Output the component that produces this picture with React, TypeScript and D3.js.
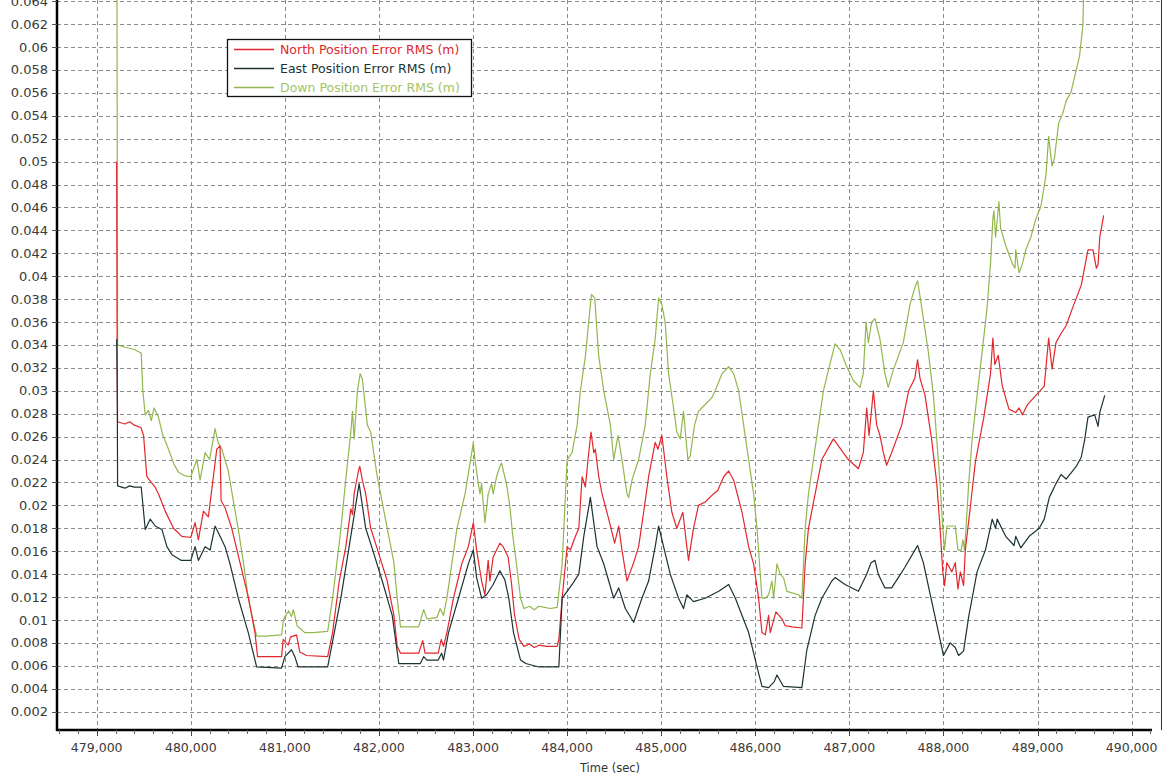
import React from "react";
import * as d3 from "d3";

type P = [number, number];

const seriesNames = [
  "North Position Error RMS (m)",
  "East Position Error RMS (m)",
  "Down Position Error RMS (m)",
];
const seriesColors = ["#e3262b", "#1c3232", "#93b74e"];
const legendTextColors = ["#e3262b", "#1c3232", "#a6c463"];

const xTicks = [479000, 480000, 481000, 482000, 483000, 484000, 485000, 486000, 487000, 488000, 489000, 490000];
const yTicks = [0.002, 0.004, 0.006, 0.008, 0.01, 0.012, 0.014, 0.016, 0.018, 0.02, 0.022, 0.024, 0.026, 0.028, 0.03, 0.032, 0.034, 0.036, 0.038, 0.04, 0.042, 0.044, 0.046, 0.048, 0.05, 0.052, 0.054, 0.056, 0.058, 0.06, 0.062, 0.064];

const north: P[] = [
  [479212, 0.05], [479218, 0.031], [479222, 0.0273], [479300, 0.0271], [479350, 0.0273], [479400, 0.027], [479470, 0.0268],
  [479498, 0.0261], [479533, 0.0225], [479580, 0.022], [479620, 0.0216], [479657, 0.021], [479728, 0.0195], [479816, 0.018],
  [479905, 0.0173], [480000, 0.0172], [480046, 0.0185], [480081, 0.017], [480134, 0.0195], [480187, 0.019], [480240, 0.0225],
  [480276, 0.0249], [480311, 0.0252], [480322, 0.0204], [480364, 0.0198], [480435, 0.018], [480523, 0.015], [480611, 0.012],
  [480682, 0.0089], [480710, 0.0068], [480850, 0.0068], [480965, 0.0068], [480982, 0.0083], [481035, 0.0078], [481060, 0.0085],
  [481124, 0.0087], [481159, 0.0072], [481230, 0.0069], [481455, 0.0068], [481507, 0.0089], [481578, 0.0134], [481648, 0.0164],
  [481701, 0.0197], [481719, 0.0192], [481736, 0.021], [481782, 0.023], [481796, 0.0234], [481824, 0.0222], [481859, 0.021],
  [481912, 0.018], [481982, 0.0162], [482088, 0.0134], [482159, 0.0104], [482194, 0.0077], [482229, 0.0071], [482422, 0.0071],
  [482465, 0.0082], [482490, 0.0071], [482630, 0.0071], [482662, 0.0083], [482686, 0.0077], [482722, 0.0089], [482792, 0.0119],
  [482880, 0.0149], [482950, 0.0164], [483003, 0.0185], [483038, 0.0161], [483091, 0.0134], [483126, 0.0122], [483161, 0.0152],
  [483179, 0.0134], [483214, 0.0155], [483285, 0.0167], [483320, 0.0164], [483373, 0.0155], [483410, 0.0131], [483440, 0.0105],
  [483490, 0.0083], [483541, 0.0077], [483600, 0.0079], [483650, 0.0076], [483700, 0.0078], [483780, 0.0077], [483894, 0.0077],
  [483912, 0.0083], [483947, 0.0119], [484000, 0.0164], [484035, 0.0161], [484088, 0.0173], [484124, 0.018], [484159, 0.0225],
  [484194, 0.0216], [484222, 0.024], [484254, 0.0264], [484283, 0.0246], [484300, 0.0249], [484336, 0.0225], [484371, 0.021],
  [484442, 0.0188], [484505, 0.0167], [484548, 0.0182], [484583, 0.0161], [484636, 0.0134], [484671, 0.0142], [484707, 0.015],
  [484760, 0.0164], [484813, 0.0194], [484866, 0.0225], [484936, 0.0255], [484965, 0.0249], [485007, 0.0261], [485060, 0.0225],
  [485113, 0.0194], [485166, 0.018], [485230, 0.0194], [485272, 0.0164], [485290, 0.0152], [485343, 0.018], [485396, 0.02],
  [485467, 0.0203], [485555, 0.021], [485600, 0.0213], [485664, 0.0225], [485717, 0.023], [485770, 0.0222], [485859, 0.0194],
  [485929, 0.0164], [485982, 0.0149], [486035, 0.0119], [486071, 0.0089], [486106, 0.0087], [486141, 0.0104], [486159, 0.0089],
  [486219, 0.0107], [486283, 0.0101], [486318, 0.0095], [486389, 0.0094], [486495, 0.0093], [486530, 0.0149], [486565, 0.018],
  [486636, 0.021], [486707, 0.024], [486830, 0.0258], [486883, 0.0252], [486989, 0.024], [487096, 0.0232], [487148, 0.0246],
  [487184, 0.0285], [487209, 0.0261], [487255, 0.03], [487290, 0.027], [487325, 0.0261], [487361, 0.0246], [487396, 0.0235],
  [487449, 0.0246], [487556, 0.027], [487630, 0.03], [487696, 0.0311], [487725, 0.0327], [487750, 0.0311], [487804, 0.0296],
  [487875, 0.0257], [487929, 0.0219], [487964, 0.018], [487993, 0.0142], [488011, 0.013], [488036, 0.015], [488089, 0.0142],
  [488125, 0.015], [488154, 0.0127], [488179, 0.0142], [488214, 0.013], [488232, 0.0161], [488286, 0.0199], [488339, 0.0238],
  [488429, 0.0277], [488500, 0.0315], [488525, 0.0346], [488546, 0.0323], [488582, 0.0331], [488625, 0.0304], [488696, 0.0284],
  [488768, 0.0281], [488804, 0.0285], [488839, 0.0279], [488893, 0.0288], [488982, 0.0296], [489071, 0.0304], [489118, 0.0346],
  [489154, 0.0319], [489196, 0.0342], [489250, 0.035], [489304, 0.0357], [489375, 0.0373], [489464, 0.0392], [489536, 0.0423],
  [489589, 0.0423], [489625, 0.0407], [489643, 0.041], [489661, 0.0434], [489703, 0.0453],
];

const east: P[] = [
  [479212, 0.0345], [479218, 0.031], [479222, 0.0217], [479300, 0.0215], [479350, 0.0217], [479400, 0.0216], [479473, 0.0216],
  [479516, 0.0179], [479568, 0.0188], [479622, 0.0182], [479693, 0.0179], [479746, 0.0164], [479800, 0.0157], [479900, 0.0152],
  [480000, 0.0152], [480046, 0.0164], [480081, 0.0152], [480152, 0.0164], [480205, 0.0161], [480258, 0.0182], [480311, 0.0173],
  [480364, 0.0164], [480417, 0.0149], [480505, 0.0119], [480611, 0.0089], [480700, 0.0059], [480965, 0.0058], [481000, 0.0068],
  [481071, 0.0074], [481106, 0.0068], [481141, 0.0059], [481455, 0.0059], [481525, 0.0089], [481595, 0.0119], [481683, 0.0164],
  [481736, 0.0191], [481789, 0.0219], [481859, 0.018], [481930, 0.0162], [482035, 0.0134], [482141, 0.0104], [482211, 0.0062],
  [482440, 0.0062], [482475, 0.0068], [482510, 0.0065], [482630, 0.0065], [482666, 0.0071], [482686, 0.0065], [482739, 0.0089],
  [482845, 0.0119], [482950, 0.0149], [483003, 0.0161], [483038, 0.0137], [483091, 0.0119], [483144, 0.0122], [483214, 0.0131],
  [483285, 0.0143], [483338, 0.0135], [483380, 0.0119], [483430, 0.0089], [483505, 0.0065], [483560, 0.0062], [483700, 0.0059],
  [483912, 0.0059], [483947, 0.0119], [484000, 0.0125], [484053, 0.0131], [484124, 0.014], [484177, 0.0173], [484247, 0.0207],
  [484283, 0.0185], [484318, 0.0164], [484389, 0.0149], [484442, 0.0134], [484495, 0.0119], [484548, 0.0128], [484618, 0.011],
  [484707, 0.0098], [484795, 0.0119], [484866, 0.0134], [484936, 0.0164], [484972, 0.0182], [485025, 0.0164], [485096, 0.014],
  [485184, 0.0119], [485237, 0.011], [485272, 0.0122], [485343, 0.0116], [485467, 0.0119], [485611, 0.0125], [485717, 0.0131],
  [485788, 0.0119], [485929, 0.0089], [486018, 0.0059], [486071, 0.0042], [486141, 0.0041], [486200, 0.0046], [486230, 0.0052],
  [486300, 0.0042], [486495, 0.0041], [486548, 0.0074], [486636, 0.0104], [486707, 0.0119], [486813, 0.0134], [486848, 0.0137],
  [486954, 0.0131], [487096, 0.0125], [487184, 0.014], [487230, 0.015], [487272, 0.0152], [487307, 0.014], [487378, 0.0128],
  [487449, 0.0128], [487520, 0.0137], [487590, 0.0146], [487696, 0.0161], [487725, 0.0165], [487786, 0.015], [487857, 0.0123],
  [487929, 0.0096], [488000, 0.0069], [488071, 0.008], [488125, 0.0076], [488161, 0.0069], [488214, 0.0073], [488268, 0.0103],
  [488357, 0.0142], [488446, 0.0161], [488518, 0.0188], [488554, 0.018], [488571, 0.0188], [488661, 0.0173], [488750, 0.0165],
  [488768, 0.0173], [488821, 0.0163], [488911, 0.0173], [489018, 0.018], [489071, 0.0188], [489125, 0.0207], [489196, 0.0219],
  [489250, 0.0227], [489304, 0.0223], [489411, 0.0234], [489464, 0.0242], [489500, 0.0257], [489536, 0.0277], [489607, 0.0279],
  [489643, 0.0269], [489661, 0.0281], [489714, 0.0296],
];

const down: P[] = [
  [479212, 0.08], [479222, 0.034], [479300, 0.0338], [479400, 0.0336], [479473, 0.0333], [479490, 0.03], [479516, 0.0279],
  [479550, 0.0283], [479580, 0.0274], [479610, 0.0285], [479657, 0.0277], [479700, 0.0262], [479763, 0.0249], [479820, 0.0236],
  [479869, 0.0229], [479930, 0.0226], [480000, 0.0225], [480030, 0.0232], [480064, 0.024], [480099, 0.0222], [480152, 0.0246],
  [480200, 0.024], [480258, 0.0267], [480290, 0.0255], [480330, 0.0249], [480399, 0.023], [480450, 0.0205], [480505, 0.0179],
  [480560, 0.015], [480611, 0.0119], [480660, 0.01], [480700, 0.0086], [480800, 0.0086], [480965, 0.0087], [480985, 0.01],
  [481000, 0.0103], [481040, 0.0108], [481070, 0.0103], [481090, 0.0109], [481130, 0.0095], [481212, 0.0089], [481300, 0.0089],
  [481455, 0.009], [481507, 0.0119], [481560, 0.0155], [481595, 0.0179], [481650, 0.0225], [481701, 0.0264], [481719, 0.0282],
  [481736, 0.0258], [481771, 0.03], [481800, 0.0315], [481824, 0.031], [481877, 0.027], [481912, 0.0264], [481982, 0.0225],
  [482088, 0.018], [482159, 0.015], [482194, 0.0119], [482229, 0.0094], [482422, 0.0094], [482475, 0.0109], [482510, 0.0101],
  [482616, 0.0102], [482651, 0.011], [482686, 0.0104], [482722, 0.0119], [482827, 0.0179], [482915, 0.021], [482986, 0.0246],
  [483003, 0.0255], [483020, 0.024], [483056, 0.0219], [483074, 0.021], [483091, 0.0219], [483126, 0.0185], [483161, 0.021],
  [483197, 0.0219], [483214, 0.021], [483250, 0.0225], [483285, 0.0234], [483302, 0.0237], [483355, 0.0219], [483390, 0.02],
  [483420, 0.0175], [483452, 0.0155], [483505, 0.0119], [483541, 0.011], [483600, 0.0112], [483650, 0.0109], [483700, 0.0112],
  [483760, 0.0111], [483820, 0.011], [483894, 0.0111], [483947, 0.0149], [484000, 0.024], [484053, 0.0246], [484106, 0.027],
  [484141, 0.03], [484194, 0.033], [484229, 0.036], [484258, 0.0384], [484293, 0.0381], [484336, 0.033], [484389, 0.03],
  [484460, 0.027], [484495, 0.024], [484541, 0.0261], [484583, 0.024], [484636, 0.021], [484654, 0.0207], [484689, 0.0222],
  [484760, 0.024], [484830, 0.027], [484884, 0.0315], [484936, 0.0345], [484972, 0.0381], [485007, 0.0375], [485042, 0.036],
  [485078, 0.0315], [485131, 0.0285], [485166, 0.0264], [485202, 0.0258], [485237, 0.0282], [485283, 0.024], [485308, 0.0243],
  [485354, 0.027], [485396, 0.0282], [485467, 0.0288], [485538, 0.0294], [485573, 0.03], [485647, 0.0315], [485717, 0.0321],
  [485770, 0.0315], [485823, 0.03], [485876, 0.027], [485929, 0.024], [485982, 0.021], [486018, 0.018], [486071, 0.0119],
  [486106, 0.0119], [486141, 0.0122], [486177, 0.0134], [486194, 0.0119], [486230, 0.0149], [486265, 0.014], [486300, 0.0137],
  [486336, 0.0125], [486460, 0.0122], [486495, 0.0119], [486530, 0.018], [486565, 0.021], [486618, 0.024], [486671, 0.027],
  [486724, 0.03], [486795, 0.0324], [486848, 0.0341], [486901, 0.0336], [486972, 0.0321], [487042, 0.0309], [487113, 0.0303],
  [487148, 0.0315], [487177, 0.036], [487202, 0.0342], [487237, 0.036], [487272, 0.0363], [487325, 0.0345], [487378, 0.0315],
  [487413, 0.0303], [487466, 0.0318], [487573, 0.0342], [487643, 0.0375], [487696, 0.039], [487725, 0.0396], [487768, 0.0373],
  [487839, 0.0334], [487893, 0.0296], [487929, 0.0257], [487964, 0.0219], [487993, 0.018], [488011, 0.0161], [488036, 0.0182],
  [488125, 0.0182], [488154, 0.0161], [488189, 0.0161], [488207, 0.017], [488225, 0.0161], [488268, 0.0219], [488304, 0.0257],
  [488357, 0.0296], [488411, 0.0334], [488464, 0.0373], [488500, 0.0411], [488525, 0.045], [488536, 0.0457], [488554, 0.0434],
  [488589, 0.0465], [488607, 0.0442], [488661, 0.0427], [488732, 0.0411], [488761, 0.0407], [488768, 0.0423], [488804, 0.0403],
  [488839, 0.0411], [488875, 0.0423], [488928, 0.0434], [488982, 0.045], [489036, 0.0461], [489089, 0.0488], [489118, 0.0522],
  [489154, 0.0496], [489179, 0.0503], [489225, 0.0534], [489268, 0.0542], [489304, 0.0553], [489357, 0.0561], [489411, 0.058],
  [489446, 0.0592], [489482, 0.0619], [489500, 0.068],
];

const allSeries = [north, east, down];
const drawOrder = [2, 0, 1];

const W = 1164;
const H = 778;
const L = 57;
const R = 1161;
const B = 730;
const T = 0;
const FONT = "'DejaVu Sans', Verdana, sans-serif";

export default function App() {
  const x = d3.scaleLinear().domain([478578, 490312]).range([L, R]);
  const y = d3.scaleLinear().domain([0.0004, 0.0641]).range([B, T]);
  const line = d3
    .line<P>()
    .x((d) => x(d[0]))
    .y((d) => y(d[1]));
  const minorTicks = d3.range(478600, 490300, 200).filter((v) => v % 1000 !== 0);
  const fmtX = d3.format(",");
  const fmtY = d3.format("~g");

  return (
    <div style={{ position: "absolute", left: 0, top: 0, width: W, height: H, background: "#fff" }}>
      <svg width={W} height={H} style={{ display: "block" }} fontFamily={FONT}>
        <defs>
          <clipPath id="plotclip">
            <rect x={L} y={-20} width={R - L} height={B + 20} />
          </clipPath>
        </defs>
        <rect x={0} y={0} width={W} height={H} fill="#fff" />
        {/* grid */}
        <g stroke="#8c8c8c" strokeWidth={1} strokeDasharray="4,3">
          {yTicks.map((t) => (
            <line key={"gy" + t} x1={L} x2={R} y1={Math.round(y(t)) + 0.5} y2={Math.round(y(t)) + 0.5} />
          ))}
          {xTicks.map((t) => (
            <line key={"gx" + t} x1={Math.round(x(t)) + 0.5} x2={Math.round(x(t)) + 0.5} y1={T} y2={B} />
          ))}
        </g>
        {/* series */}
        <g clipPath="url(#plotclip)" fill="none" strokeWidth={1.2} strokeLinejoin="round">
          {drawOrder.map((i) => (
            <path key={"s" + i} d={line(allSeries[i]) || ""} stroke={seriesColors[i]} />
          ))}
        </g>
        {/* right border */}
        <line x1={R + 0.5} x2={R + 0.5} y1={T} y2={B} stroke="#333" strokeWidth={1} />
        {/* y axis */}
        <line x1={L} x2={L} y1={T} y2={B + 1} stroke="#000" strokeWidth={2.5} />
        {yTicks.map((t) => (
          <g key={"yt" + t}>
            <line x1={L - 5} x2={L} y1={Math.round(y(t)) + 0.5} y2={Math.round(y(t)) + 0.5} stroke="#555" />
            <text x={L - 9} y={y(t)} dy="0.35em" textAnchor="end" fontSize={13} fill="#3a3a3a">
              {fmtY(t)}
            </text>
          </g>
        ))}
        {/* x axis */}
        <line x1={L - 1} x2={1152} y1={B} y2={B} stroke="#000" strokeWidth={2.5} />
        {minorTicks.map((t) => (
          <line key={"mx" + t} x1={Math.round(x(t)) + 0.5} x2={Math.round(x(t)) + 0.5} y1={B} y2={B + 4} stroke="#666" />
        ))}
        {xTicks.map((t) => (
          <g key={"xt" + t}>
            <line x1={Math.round(x(t)) + 0.5} x2={Math.round(x(t)) + 0.5} y1={B} y2={B + 6} stroke="#444" />
            <text x={x(t)} y={B + 18} dy="0.35em" textAnchor="middle" fontSize={12.5} fill="#3a3a3a">
              {fmtX(t)}
            </text>
          </g>
        ))}
        <text x={(L + R) / 2 + 1} y={768} dy="0.35em" textAnchor="middle" fontSize={11.5} fill="#333">
          Time (sec)
        </text>
        {/* legend */}
        <g>
          <rect x={227.5} y={39.5} width={244} height={57} fill="#fff" stroke="#111" strokeWidth={1.3} />
          {seriesNames.map((n, i) => (
            <g key={"lg" + i}>
              <line x1={234} x2={274} y1={49.5 + i * 19} y2={49.5 + i * 19} stroke={seriesColors[i]} strokeWidth={1.3} />
              <text x={280} y={49.5 + i * 19} dy="0.35em" fontSize={12.5} fill={legendTextColors[i]}>
                {n}
              </text>
            </g>
          ))}
        </g>
      </svg>
    </div>
  );
}
